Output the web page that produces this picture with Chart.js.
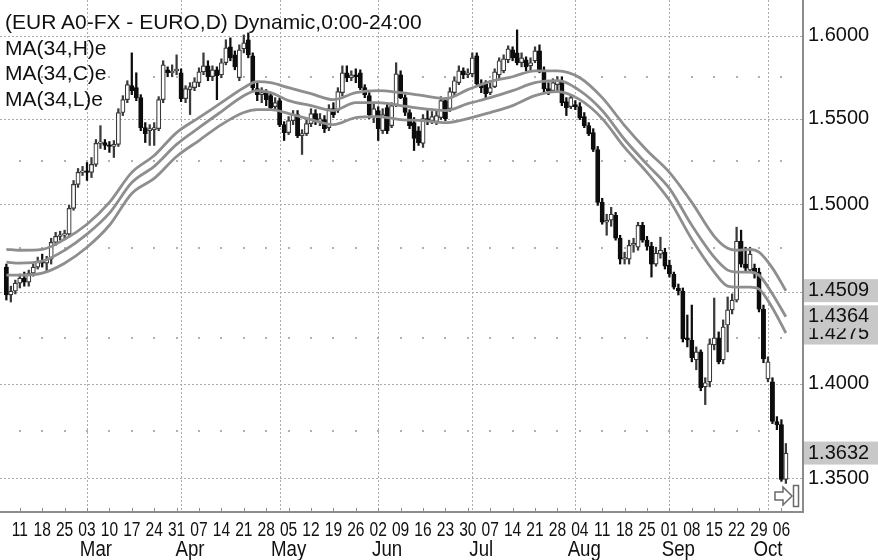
<!DOCTYPE html>
<html>
<head>
<meta charset="utf-8">
<title>EUR A0-FX daily</title>
<script src="https://cdn.jsdelivr.net/npm/chart.js@4.4.0/dist/chart.umd.min.js"></script>
<style>
  body { margin: 0; background: #fff; }
  #wrap { position: relative; width: 878px; height: 560px; }
  #legend {
    position: absolute; left: 5px; top: 9px;
    font: 21px/25.5px "Liberation Sans", Arial, sans-serif;
    color: #111; white-space: pre; pointer-events: none;
  }
</style>
</head>
<body>
<div id="wrap">
  <canvas id="chart" width="878" height="560"></canvas>
  <div id="legend"></div>
</div>
<script>
/*
  EUR/USD daily candles with three 34-day exponential averages
  (of highs, closes and lows).
*/

const FIRST_DAY = '2008-02-06';   // first candle, one row per week below

const open = [
  1.4641, 1.4485, 1.4507,
  1.4551, 1.4579, 1.4557, 1.4607, 1.4641, // Feb 11
  1.4674, 1.4663, 1.4686, 1.4781, 1.4815, // Feb 18
  1.4821, 1.4827, 1.4975, 1.5113, 1.5183, // Feb 25
  1.5189, 1.5183, 1.5230, 1.5353, 1.5358, // Mar 3
  1.5341, 1.5335, 1.5347, 1.5536, 1.5613, // Mar 10
  1.5697, 1.5685, 1.5625, 1.5446, 1.5428, // Mar 17
  1.5434, 1.5440, 1.5613, 1.5793, 1.5775, // Mar 24
  1.5787, 1.5775, 1.5619, 1.5673, 1.5685, // Mar 31
  1.5715, 1.5781, 1.5817, 1.5751, 1.5793, // Apr 7
  1.5763, 1.5836, 1.5933, 1.5884, 1.5745, // Apr 14
  1.5921, 1.5976, 1.5878, 1.5679, 1.5643, // Apr 21
  1.5655, 1.5637, 1.5571, 1.5607, 1.5464, // Apr 28
  1.5417, 1.5488, 1.5524, 1.5399, 1.5411, // May 5
  1.5470, 1.5530, 1.5482, 1.5494, 1.5446, // May 12
  1.5559, 1.5548, 1.5655, 1.5775, 1.5745, // May 19
  1.5763, 1.5775, 1.5685, 1.5637, 1.5506, // May 26
  1.5548, 1.5428, 1.5565, 1.5458, 1.5583, // Jun 2
  1.5763, 1.5625, 1.5536, 1.5476, 1.5428, // Jun 9
  1.5353, 1.5500, 1.5488, 1.5482, 1.5506, // Jun 16
  1.5607, 1.5559, 1.5655, 1.5715, 1.5787, // Jun 23
  1.5763, 1.5769, 1.5878, 1.5703, 1.5709, // Jun 30
  1.5655, 1.5691, 1.5763, 1.5787, 1.5854, // Jul 7
  1.5915, 1.5896, 1.5836, 1.5854, 1.5817, // Jul 14
  1.5848, 1.5908, 1.5793, 1.5679, 1.5667, // Jul 21
  1.5703, 1.5727, 1.5601, 1.5571, 1.5583, // Jul 28
  1.5571, 1.5512, 1.5458, 1.5417, 1.5317, // Aug 4
  1.5009, 1.4895, 1.4907, 1.4935, 1.4804, // Aug 11
  1.4686, 1.4686, 1.4764, 1.4753, 1.4878, // Aug 18
  1.4793, 1.4758, 1.4658, 1.4714, 1.4725, // Aug 25
  1.4652, 1.4602, 1.4524, 1.4507, 1.4248, // Sep 1
  1.4237, 1.4129, 1.4172, 1.3983, 1.4010, // Sep 8
  1.4210, 1.4248, 1.4129, 1.4319, 1.4402, // Sep 15
  1.4457, 1.4787, 1.4658, 1.4624, 1.4635, // Sep 22
  1.4613, 1.4407, 1.4026, 1.4010, 1.3798, // Sep 29
  1.3782, 1.3495                          // Oct 6
];

const high = [
  1.4658, 1.4534, 1.4568,
  1.4602, 1.4613, 1.4624, 1.4658, 1.4697,
  1.4714, 1.4702, 1.4804, 1.4838, 1.4844,
  1.4850, 1.4992, 1.5136, 1.5206, 1.5218,
  1.5241, 1.5270, 1.5376, 1.5458, 1.5376,
  1.5364, 1.5370, 1.5559, 1.5637, 1.5727,
  1.5896, 1.5775, 1.5643, 1.5476, 1.5464,
  1.5476, 1.5631, 1.5848, 1.5811, 1.5823,
  1.5884, 1.5799, 1.5697, 1.5715, 1.5745,
  1.5805, 1.5896, 1.5848, 1.5817, 1.5811,
  1.5860, 1.5976, 1.5988, 1.5908, 1.5945,
  1.6006, 1.6018, 1.5896, 1.5715, 1.5685,
  1.5673, 1.5655, 1.5625, 1.5625, 1.5482,
  1.5512, 1.5548, 1.5548, 1.5434, 1.5494,
  1.5559, 1.5553, 1.5530, 1.5518, 1.5583,
  1.5595, 1.5685, 1.5817, 1.5817, 1.5787,
  1.5799, 1.5793, 1.5703, 1.5655, 1.5595,
  1.5571, 1.5559, 1.5595, 1.5595, 1.5836,
  1.5787, 1.5643, 1.5553, 1.5506, 1.5452,
  1.5524, 1.5548, 1.5542, 1.5548, 1.5631,
  1.5625, 1.5685, 1.5751, 1.5817, 1.5805,
  1.5799, 1.5896, 1.5896, 1.5733, 1.5727,
  1.5727, 1.5799, 1.5866, 1.5884, 1.5939,
  1.5933, 1.6037, 1.5896, 1.5872, 1.5866,
  1.5933, 1.5945, 1.5811, 1.5715, 1.5739,
  1.5751, 1.5751, 1.5625, 1.5643, 1.5607,
  1.5595, 1.5536, 1.5476, 1.5440, 1.5335,
  1.5033, 1.4941, 1.4981, 1.4952, 1.4821,
  1.4725, 1.4793, 1.4804, 1.4895, 1.4895,
  1.4815, 1.4781, 1.4753, 1.4810, 1.4747,
  1.4680, 1.4613, 1.4546, 1.4524, 1.4374,
  1.4429, 1.4199, 1.4183, 1.4032, 1.4243,
  1.4468, 1.4281, 1.4347, 1.4474, 1.4491,
  1.4867, 1.4850, 1.4753, 1.4753, 1.4658,
  1.4635, 1.4429, 1.4145, 1.4032, 1.3824,
  1.3808, 1.3682
];

const low = [
  1.4457, 1.4446, 1.4491,
  1.4524, 1.4534, 1.4534, 1.4590, 1.4630,
  1.4641, 1.4613, 1.4658, 1.4764, 1.4793,
  1.4804, 1.4810, 1.4964, 1.5096, 1.5165,
  1.5136, 1.5153, 1.5218, 1.5323, 1.5317,
  1.5300, 1.5270, 1.5335, 1.5518, 1.5595,
  1.5643, 1.5607, 1.5428, 1.5358, 1.5341,
  1.5341, 1.5428, 1.5595, 1.5751, 1.5751,
  1.5763, 1.5601, 1.5595, 1.5524, 1.5667,
  1.5691, 1.5763, 1.5727, 1.5727, 1.5613,
  1.5745, 1.5823, 1.5848, 1.5793, 1.5727,
  1.5896, 1.5866, 1.5667, 1.5607, 1.5595,
  1.5577, 1.5553, 1.5548, 1.5452, 1.5370,
  1.5405, 1.5464, 1.5387, 1.5288, 1.5399,
  1.5452, 1.5464, 1.5458, 1.5417, 1.5428,
  1.5506, 1.5536, 1.5637, 1.5721, 1.5727,
  1.5715, 1.5673, 1.5625, 1.5500, 1.5476,
  1.5370, 1.5411, 1.5411, 1.5446, 1.5571,
  1.5619, 1.5518, 1.5440, 1.5311, 1.5341,
  1.5329, 1.5464, 1.5470, 1.5464, 1.5494,
  1.5488, 1.5542, 1.5643, 1.5703, 1.5739,
  1.5745, 1.5751, 1.5691, 1.5655, 1.5613,
  1.5643, 1.5685, 1.5739, 1.5775, 1.5836,
  1.5848, 1.5823, 1.5811, 1.5787, 1.5793,
  1.5836, 1.5775, 1.5655, 1.5643, 1.5655,
  1.5667, 1.5577, 1.5518, 1.5559, 1.5553,
  1.5494, 1.5446, 1.5399, 1.5305, 1.4992,
  1.4884, 1.4821, 1.4872, 1.4793, 1.4658,
  1.4658, 1.4658, 1.4725, 1.4736, 1.4781,
  1.4736, 1.4585, 1.4646, 1.4691, 1.4630,
  1.4585, 1.4518, 1.4485, 1.4226, 1.4199,
  1.4118, 1.4075, 1.3962, 1.3888, 1.3983,
  1.4183, 1.4107, 1.4107, 1.4172, 1.4380,
  1.4446, 1.4641, 1.4613, 1.4613, 1.4579,
  1.4391, 1.4113, 1.4010, 1.3787, 1.3755,
  1.3485, 1.3474
];

const close = [
  1.4485, 1.4507, 1.4551,
  1.4579, 1.4557, 1.4607, 1.4641, 1.4674,
  1.4663, 1.4686, 1.4781, 1.4815, 1.4821,
  1.4827, 1.4975, 1.5113, 1.5183, 1.5189,
  1.5183, 1.5230, 1.5353, 1.5358, 1.5341,
  1.5335, 1.5347, 1.5536, 1.5613, 1.5703,
  1.5667, 1.5625, 1.5446, 1.5411, 1.5440,
  1.5446, 1.5613, 1.5823, 1.5775, 1.5781,
  1.5793, 1.5619, 1.5679, 1.5691, 1.5721,
  1.5781, 1.5817, 1.5751, 1.5793, 1.5757,
  1.5836, 1.5927, 1.5866, 1.5811, 1.5915,
  1.5957, 1.5884, 1.5685, 1.5643, 1.5655,
  1.5613, 1.5565, 1.5595, 1.5464, 1.5417,
  1.5488, 1.5524, 1.5399, 1.5411, 1.5470,
  1.5530, 1.5482, 1.5500, 1.5440, 1.5559,
  1.5524, 1.5661, 1.5775, 1.5745, 1.5763,
  1.5751, 1.5685, 1.5643, 1.5524, 1.5559,
  1.5440, 1.5524, 1.5428, 1.5577, 1.5769,
  1.5625, 1.5536, 1.5458, 1.5382, 1.5358,
  1.5500, 1.5482, 1.5512, 1.5518, 1.5607,
  1.5500, 1.5661, 1.5727, 1.5787, 1.5763,
  1.5775, 1.5866, 1.5709, 1.5685, 1.5649,
  1.5685, 1.5781, 1.5848, 1.5860, 1.5921,
  1.5866, 1.5836, 1.5866, 1.5811, 1.5836,
  1.5908, 1.5793, 1.5679, 1.5667, 1.5715,
  1.5727, 1.5595, 1.5565, 1.5625, 1.5571,
  1.5506, 1.5458, 1.5411, 1.5317, 1.5009,
  1.4895, 1.4907, 1.4941, 1.4804, 1.4686,
  1.4691, 1.4764, 1.4776, 1.4878, 1.4793,
  1.4758, 1.4658, 1.4719, 1.4736, 1.4646,
  1.4602, 1.4529, 1.4507, 1.4243, 1.4237,
  1.4140, 1.4172, 1.3978, 1.4005, 1.4216,
  1.4248, 1.4118, 1.4308, 1.4402, 1.4457,
  1.4787, 1.4658, 1.4635, 1.4714, 1.4602,
  1.4407, 1.4134, 1.4118, 1.3798, 1.3782,
  1.3495, 1.3632
];

// MA(34) lines, read at these dates
const maDates = [
  '2008-02-06', '2008-02-11', '2008-02-18', '2008-02-25', '2008-03-03',
  '2008-03-10', '2008-03-17', '2008-03-24', '2008-03-31', '2008-04-07',
  '2008-04-14', '2008-04-21', '2008-04-24', '2008-04-29', '2008-05-05',
  '2008-05-12', '2008-05-19', '2008-05-26', '2008-06-02', '2008-06-09',
  '2008-06-16', '2008-06-23', '2008-06-30', '2008-07-07', '2008-07-14',
  '2008-07-21', '2008-07-28', '2008-08-04', '2008-08-11', '2008-08-18',
  '2008-08-25', '2008-09-01', '2008-09-08', '2008-09-15', '2008-09-18',
  '2008-09-22', '2008-09-25', '2008-09-29', '2008-10-02', '2008-10-07'
];
const maHigh = [
  1.4741, 1.4736, 1.4741, 1.4798, 1.4884, 1.5009, 1.5183, 1.5282, 1.5417, 1.5506,
  1.5595, 1.5685, 1.5721, 1.5715, 1.5685, 1.5649, 1.5613, 1.5655, 1.5667, 1.5655,
  1.5637, 1.5619, 1.5673, 1.5721, 1.5751, 1.5787, 1.5787, 1.5745, 1.5625, 1.5458,
  1.5311, 1.5183, 1.5009, 1.4815, 1.4747, 1.4736, 1.4741, 1.4725, 1.4635, 1.4509
];
const maClose = [
  1.4669, 1.4663, 1.4674, 1.4736, 1.4827, 1.4947, 1.5124, 1.5218, 1.5347, 1.5446,
  1.5542, 1.5637, 1.5667, 1.5655, 1.5607, 1.5577, 1.5548, 1.5595, 1.5595, 1.5577,
  1.5559, 1.5548, 1.5589, 1.5625, 1.5667, 1.5715, 1.5727, 1.5667, 1.5548, 1.5376,
  1.5230, 1.5090, 1.4878, 1.4697, 1.4624, 1.4613, 1.4613, 1.4596, 1.4491, 1.4364
];
const maLow = [
  1.4596, 1.4596, 1.4607, 1.4663, 1.4753, 1.4878, 1.5061, 1.5148, 1.5276, 1.5370,
  1.5464, 1.5536, 1.5553, 1.5553, 1.5530, 1.5494, 1.5464, 1.5506, 1.5512, 1.5494,
  1.5488, 1.5476, 1.5500, 1.5536, 1.5577, 1.5637, 1.5661, 1.5613, 1.5500, 1.5329,
  1.5183, 1.5021, 1.4798, 1.4613, 1.4534, 1.4529, 1.4529, 1.4518, 1.4413, 1.4275
];

const yTicks = [1.35, 1.40, 1.45, 1.50, 1.55, 1.60];
const yMinor = [1.375, 1.425, 1.475, 1.525, 1.575];
const monthNames = ['Mar', 'Apr', 'May', 'Jun', 'Jul', 'Aug', 'Sep', 'Oct'];
// which trading day of the month each month name sits on (0 = first)
const monthLabelDay = [2, 2, 2, 2, 2, 2, 2, 0];
const titleLines = [
  '(EUR A0-FX - EURO,D) Dynamic,0:00-24:00',
  'MA(34,H)e',
  'MA(34,C)e',
  'MA(34,L)e'
];

// visible window (in trading days) and price range
const X_MIN = -1.42, X_MAX = 177.82;
const Y_MIN = 1.3327, Y_MAX = 1.6222;

const FONT = '"Liberation Sans", Arial, sans-serif';

// --- trading calendar ---

function buildTradingDays(first, count) {
  const days = [];
  const d = new Date(first + 'T00:00:00Z');
  while (days.length < count) {
    const wd = d.getUTCDay();
    if (wd !== 0 && wd !== 6) days.push(new Date(d));
    d.setUTCDate(d.getUTCDate() + 1);
  }
  return days;
}

const days = buildTradingDays(FIRST_DAY, close.length);
const isoDays = days.map(d => d.toISOString().slice(0, 10));
const mondays = [];
const monthStarts = [];
days.forEach((d, k) => {
  if (d.getUTCDay() === 1) mondays.push(k);
  if (k > 0 && d.getUTCMonth() !== days[k - 1].getUTCMonth()) monthStarts.push(k);
});
const monthLabelAt = monthStarts.map((k, j) => k + monthLabelDay[j]);

const dayLabel = v => String(days[v].getUTCDate()).padStart(2, '0');
const monthLabel = v => monthNames[monthLabelAt.indexOf(v)];

// --- datasets ---

const isUp = k => close[k] >= open[k];
const wickData = close.map((_, k) => ({ x: k, y: [low[k], high[k]] }));
const bodyData = close.map((_, k) => ({ x: k, y: [Math.min(open[k], close[k]), Math.max(open[k], close[k])] }));
const maPoints = arr => maDates.map((d, j) => ({ x: isoDays.indexOf(d), y: arr[j] }));

function maLine(label, arr) {
  return {
    type: 'line', label, data: maPoints(arr),
    borderColor: '#8e8e8e', borderWidth: 2.8,
    pointRadius: 0, cubicInterpolationMode: 'monotone', order: 1
  };
}

// condensed axis text, drawn at the positions of the library's ticks
function drawCondensed(ctx, text, px, py, size, squeeze) {
  ctx.save();
  ctx.translate(px, py);
  ctx.scale(squeeze, 1);
  ctx.font = size + 'px ' + FONT;
  ctx.textAlign = 'center';
  ctx.textBaseline = 'alphabetic';
  ctx.fillStyle = '#111';
  ctx.fillText(text, 0, 0);
  ctx.restore();
}

// --- decorations: dotted grid, value boxes, axis labels, arrow ---

const chartDecor = {
  id: 'chartDecor',
  beforeDatasetsDraw(chart) {
    const { ctx, chartArea: a, scales: { x, y } } = chart;
    ctx.save();
    ctx.strokeStyle = '#ababab';
    ctx.lineWidth = 1;
    ctx.setLineDash([2, 2]);
    y.ticks.forEach(t => {
      const py = Math.round(y.getPixelForValue(t.value)) + 0.5;
      ctx.beginPath(); ctx.moveTo(a.left, py); ctx.lineTo(a.right, py); ctx.stroke();
    });
    monthStarts.forEach(k => {
      const px = Math.round(x.getPixelForValue(k)) + 0.5;
      ctx.beginPath(); ctx.moveTo(px, a.top); ctx.lineTo(px, a.bottom); ctx.stroke();
    });
    ctx.setLineDash([]);
    ctx.fillStyle = '#b0b0b0';
    yMinor.forEach(v => {
      const py = Math.round(y.getPixelForValue(v));
      x.ticks.forEach(t => ctx.fillRect(Math.round(x.getPixelForValue(t.value)) - 1, py - 1, 2, 2));
    });
    ctx.restore();
  },
  afterDraw(chart) {
    const { ctx, chartArea: a, scales: { x, xMonth, y } } = chart;
    ctx.save();

    // week ticks and labels on the time axis
    ctx.strokeStyle = '#8c8c8c';
    ctx.lineWidth = 1;
    x.ticks.forEach(t => {
      const px = Math.round(x.getPixelForValue(t.value)) + 0.5;
      ctx.beginPath(); ctx.moveTo(px, a.bottom - 4); ctx.lineTo(px, a.bottom); ctx.stroke();
      drawCondensed(ctx, dayLabel(t.value), x.getPixelForValue(t.value), x.top + 23.5, 19.5, 0.8);
    });
    xMonth.ticks.forEach(t => {
      drawCondensed(ctx, monthLabel(t.value), xMonth.getPixelForValue(t.value), xMonth.top + 18.5, 22, 0.85);
    });

    // last values on the price axis
    const last = [maLow.at(-1), maClose.at(-1), maHigh.at(-1), close.at(-1)];
    ctx.font = '20px ' + FONT;
    ctx.textBaseline = 'middle';
    ctx.textAlign = 'left';
    last.forEach(v => {
      const py = y.getPixelForValue(v);
      ctx.fillStyle = '#c8c8c8';
      ctx.fillRect(a.right + 1, py - 11.5, chart.width - a.right - 1, 23);
      ctx.fillStyle = '#111';
      ctx.fillText(v.toFixed(4), a.right + 5, py);
    });

    // scroll arrow at the lower right
    const ax = a.right - 28, ay = a.bottom - 16;
    ctx.beginPath();
    ctx.moveTo(ax, ay - 4); ctx.lineTo(ax + 8, ay - 4); ctx.lineTo(ax + 8, ay - 9);
    ctx.lineTo(ax + 17, ay); ctx.lineTo(ax + 8, ay + 9); ctx.lineTo(ax + 8, ay + 4);
    ctx.lineTo(ax, ay + 4); ctx.closePath();
    ctx.fillStyle = '#fff'; ctx.fill();
    ctx.strokeStyle = '#6a6a6a'; ctx.lineWidth = 1.5; ctx.stroke();
    ctx.strokeRect(a.right - 9.5, a.bottom - 26.5, 5, 21);
    ctx.restore();
  }
};

// keep the plot flush with the canvas edges
const noPadX = s => { s.paddingLeft = 0; s.paddingRight = 0; };
const noPadY = s => { s.paddingTop = 0; s.paddingBottom = 0; };

// --- chart ---

document.getElementById('legend').textContent = titleLines.join('\n');

new Chart(document.getElementById('chart'), {
  type: 'bar',
  data: {
    datasets: [
      maLine('MA(34,H)e', maHigh),
      maLine('MA(34,C)e', maClose),
      maLine('MA(34,L)e', maLow),
      {
        label: 'wick', data: wickData,
        backgroundColor: ctx => isUp(ctx.dataIndex) ? '#3a3a3a' : '#0d0d0d',
        barThickness: 1.6, grouped: false, order: 3
      },
      {
        label: 'body', data: bodyData,
        backgroundColor: ctx => isUp(ctx.dataIndex) ? '#fff' : '#0d0d0d',
        borderColor: ctx => isUp(ctx.dataIndex) ? '#383838' : '#0d0d0d',
        borderWidth: 1.2, borderSkipped: false, minBarLength: 1.6,
        barThickness: 4.3, grouped: false, order: 2
      }
    ]
  },
  options: {
    responsive: false,
    animation: false,
    layout: { padding: 0 },
    plugins: { legend: { display: false }, tooltip: { enabled: false } },
    scales: {
      x: {
        type: 'linear', position: 'bottom', min: X_MIN, max: X_MAX, offset: false,
        grid: { display: false, drawTicks: false, offset: false },
        border: { display: true, color: '#8c8c8c', width: 2 },
        afterBuildTicks: s => { s.ticks = mondays.map(v => ({ value: v })); },
        afterFit: s => { s.height = 25; noPadX(s); },
        ticks: { display: false }
      },
      xMonth: {
        type: 'linear', position: 'bottom', weight: 1, min: X_MIN, max: X_MAX, offset: false,
        grid: { display: false, drawTicks: false, offset: false },
        border: { display: false },
        afterBuildTicks: s => { s.ticks = monthLabelAt.map(v => ({ value: v })); },
        afterFit: s => { s.height = 23; noPadX(s); },
        ticks: { display: false }
      },
      y: {
        type: 'logarithmic', position: 'right', min: Y_MIN, max: Y_MAX,
        grid: { display: false, drawTicks: false },
        border: { display: true, color: '#8c8c8c', width: 2 },
        afterBuildTicks: s => { s.ticks = yTicks.map(v => ({ value: v })); },
        afterFit: s => { s.width = 75; noPadY(s); },
        ticks: {
          padding: 5, color: '#111',
          font: { family: FONT, size: 20 },
          callback: v => v.toFixed(4)
        }
      }
    }
  },
  plugins: [chartDecor]
});
</script>
</body>
</html>
